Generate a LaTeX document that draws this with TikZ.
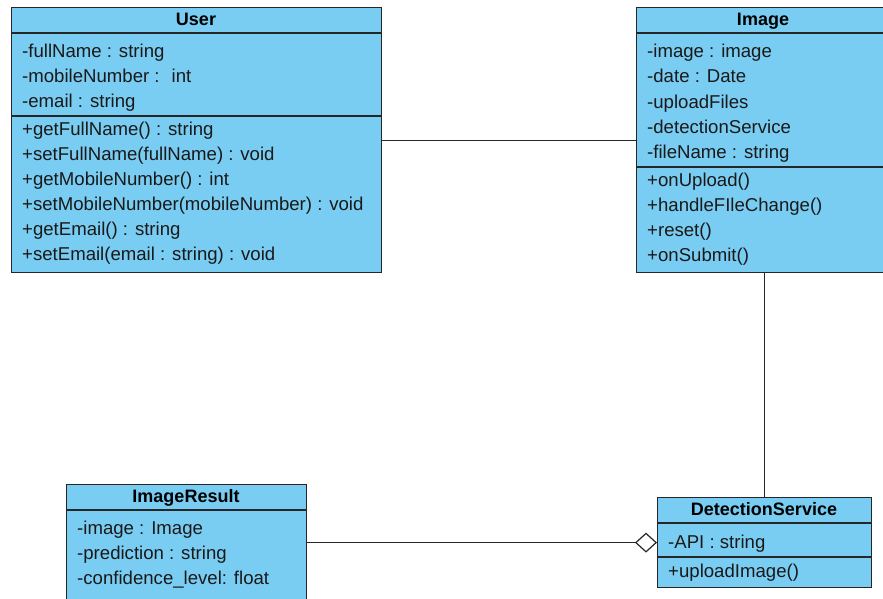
\documentclass[tikz,border=0pt]{standalone}
\usepackage{fontspec}
\setmainfont{Liberation Sans}
\usetikzlibrary{arrows.meta}
\usetikzlibrary{positioning}
\definecolor{classfill}{HTML}{7ACDF2}
\definecolor{umlline}{HTML}{262626}

\begin{document}
\begin{tikzpicture}[x=1pt,y=-1pt,
    classbox/.style={draw=umlline,fill=classfill,line width=1.2pt,anchor=north west,inner sep=0pt},
    title/.style={inner sep=0pt,text height=13pt,text depth=4pt,font=\bfseries\fontsize{18}{21}\selectfont},
    member/.style={anchor=west,inner sep=0pt,text height=13pt,text depth=4pt,text=black!90,font=\fontsize{18.6}{21}\selectfont},
    divider/.style={draw=umlline,line width=1.2pt},
    link/.style={draw=umlline,line width=1.2pt}]
    \clip (0,0) rectangle (883,598);

    % User
    \node[classbox,minimum width=370pt,minimum height=265pt] (user) at (11,7) {};
    \node[title] (user-title) at (196,21) {User};
    \draw[divider] (11,33) -- (381,33);
    \draw[divider] (11,116) -- (381,116);
    \foreach \txt [count=\i] in {-fullName : string,-mobileNumber : \ int,-email : string}
        \node[member] (user-a\i) at (22,28+25*\i) {\txt};
    \foreach \txt [count=\i] in {+getFullName() : string,+setFullName(fullName) : void,
        +getMobileNumber() : int,+setMobileNumber(mobileNumber) : void,
        +getEmail() : string,+setEmail(email : string) : void}
        \node[member] (user-m\i) at (22,106+25*\i) {\txt};

    % Image
    \node[classbox,minimum width=256pt,minimum height=265pt] (image) at (636,7) {};
    \node[title] (image-title) at (763,21) {Image};
    \draw[divider] (636,33) -- (892,33);
    \draw[divider] (636,167) -- (892,167);
    \foreach \txt [count=\i] in {-image : image,-date : Date,-uploadFiles,
        -detectionService,-fileName : string}
        \node[member] (image-a\i) at (647,28+25.2*\i) {\txt};
    \foreach \txt [count=\i] in {+onUpload(),+handleFIleChange(),+reset(),+onSubmit()}
        \node[member] (image-m\i) at (647,157+25*\i) {\txt};

    % ImageResult
    \node[classbox,minimum width=240pt,minimum height=121pt] (result) at (66,484) {};
    \node[title] (result-title) at (186,498) {ImageResult};
    \draw[divider] (66,510) -- (306,510);
    \foreach \txt [count=\i] in {-image : Image,-prediction : string,-confidence\_level: float}
        \node[member] (result-a\i) at (77,505+25*\i) {\txt};

    % DetectionService
    \node[classbox,minimum width=214pt,minimum height=90pt] (detect) at (657,497) {};
    \node[title] (detect-title) at (764,511) {DetectionService};
    \draw[divider] (657,523) -- (871,523);
    \draw[divider] (657,557) -- (871,557);
    \node[member] (detect-a1) at (668,544) {-API : string};
    \node[member] (detect-m1) at (668,573) {+uploadImage()};

    % associations
    \draw[link] (user.east) -- (image.west);
    \draw[link] (image.south) -- (detect.north);
    \draw[link,-{Diamond[open,fill=white,length=22pt,width=20pt,line width=1.2pt]}]
        (result.east |- detect.west) -- (detect.west);
\end{tikzpicture}
\end{document}
